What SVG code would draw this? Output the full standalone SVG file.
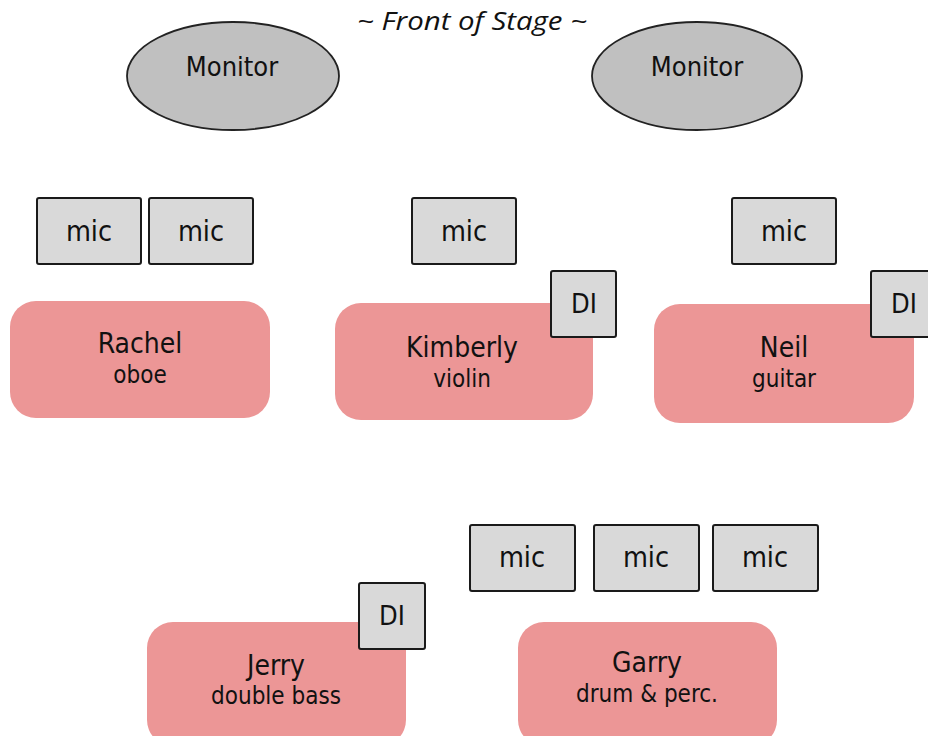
<svg xmlns="http://www.w3.org/2000/svg" width="928" height="736" viewBox="0 0 928 736">
<style>
  text { font-family: "DejaVu Sans Condensed", "DejaVu Sans", sans-serif; fill: #111; text-anchor: middle; }
  .title { font-family: "Open Sans", "Liberation Sans", sans-serif; font-style: italic; font-size: 25px; }
  .mon { fill: #c0c0c0; stroke: #222; stroke-width: 1.8; }
  .box { fill: #d9d9d9; stroke: #1a1a1a; stroke-width: 2; }
  .player { fill: #ec9696; }
  .lbl { font-size: 27px; }
  .mic { font-size: 28.5px; }
  .name { font-size: 28px; }
  .inst { font-size: 24px; }
</style>
<rect width="928" height="736" fill="#ffffff"/>
<text class="title" x="472" y="30" textLength="230" lengthAdjust="spacingAndGlyphs">~ Front of Stage ~</text>

<g id="monitor-left">
  <ellipse class="mon" cx="233" cy="76" rx="106" ry="54"/>
  <text class="lbl" x="232" y="76">Monitor</text>
</g>
<g id="monitor-right">
  <ellipse class="mon" cx="697" cy="76" rx="105" ry="54"/>
  <text class="lbl" x="697" y="76">Monitor</text>
</g>

<g id="mic-rachel-1">
  <rect class="box" x="37" y="198" width="104" height="66" rx="2"/>
  <text class="mic" x="89" y="241">mic</text>
</g>
<g id="mic-rachel-2">
  <rect class="box" x="149" y="198" width="104" height="66" rx="2"/>
  <text class="mic" x="201" y="241">mic</text>
</g>
<g id="mic-kimberly">
  <rect class="box" x="412" y="198" width="104" height="66" rx="2"/>
  <text class="mic" x="464" y="241">mic</text>
</g>
<g id="mic-neil">
  <rect class="box" x="732" y="198" width="104" height="66" rx="2"/>
  <text class="mic" x="784" y="241">mic</text>
</g>

<g id="rachel">
  <rect class="player" x="10" y="301" width="260" height="117" rx="26"/>
  <text class="name" x="140" y="353">Rachel</text>
  <text class="inst" x="140" y="383">oboe</text>
</g>
<g id="kimberly">
  <rect class="player" x="335" y="303" width="258" height="117" rx="26"/>
  <text class="name" x="462" y="357">Kimberly</text>
  <text class="inst" x="462" y="387">violin</text>
</g>
<g id="di-kimberly">
  <rect class="box" x="551" y="271" width="65" height="66" rx="2"/>
  <text class="lbl" x="584" y="313">DI</text>
</g>
<g id="neil">
  <rect class="player" x="654" y="304" width="260" height="119" rx="26"/>
  <text class="name" x="784" y="357">Neil</text>
  <text class="inst" x="784" y="387">guitar</text>
</g>
<g id="di-neil">
  <rect class="box" x="871" y="271" width="65" height="66" rx="2"/>
  <text class="lbl" x="904" y="313">DI</text>
</g>

<g id="mic-garry-1">
  <rect class="box" x="470" y="525" width="105" height="66" rx="2"/>
  <text class="mic" x="522" y="567">mic</text>
</g>
<g id="mic-garry-2">
  <rect class="box" x="594" y="525" width="105" height="66" rx="2"/>
  <text class="mic" x="646" y="567">mic</text>
</g>
<g id="mic-garry-3">
  <rect class="box" x="713" y="525" width="105" height="66" rx="2"/>
  <text class="mic" x="765" y="567">mic</text>
</g>

<g id="jerry">
  <rect class="player" x="147" y="622" width="259" height="124" rx="26"/>
  <text class="name" x="276" y="675">Jerry</text>
  <text class="inst" x="276" y="704">double bass</text>
</g>
<g id="di-jerry">
  <rect class="box" x="359" y="583" width="66" height="66" rx="2"/>
  <text class="lbl" x="392" y="625">DI</text>
</g>
<g id="garry">
  <rect class="player" x="518" y="622" width="259" height="124" rx="26"/>
  <text class="name" x="647" y="672">Garry</text>
  <text class="inst" x="647" y="702">drum &amp; perc.</text>
</g>

<g id="connectors"></g>
</svg>
